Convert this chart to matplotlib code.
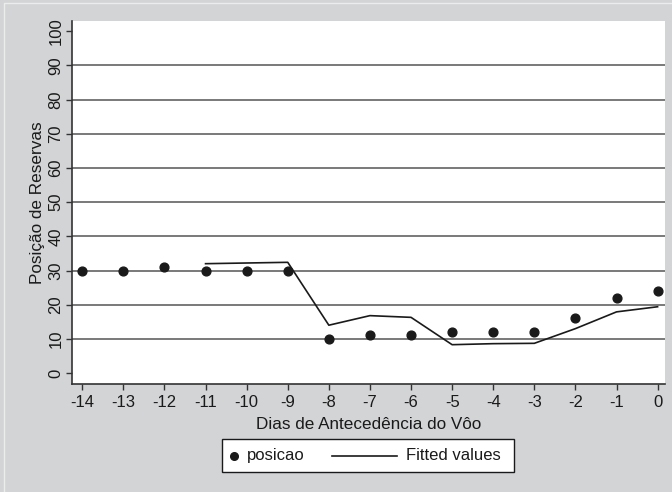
import matplotlib.pyplot as plt
from matplotlib.lines import Line2D
from matplotlib.patches import Rectangle
import numpy as np

plt.rcParams['font.family'] = ['Liberation Sans', 'DejaVu Sans']
plt.rcParams['axes.unicode_minus'] = False

dias = [-14, -13, -12, -11, -10, -9, -8, -7, -6, -5, -4, -3, -2, -1, 0]
posicao = [30, 30, 31, 30, 30, 30, 10, 11, 11, 12, 12, 12, 16, 22, 24]

dias_fit = [-11, -10, -9, -8, -7, -6, -5, -4, -3, -2, -1, 0]
fitted = [32.0, 32.2, 32.4, 14.0, 16.8, 16.3, 8.3, 8.6, 8.7, 13.0, 17.9, 19.4]

W, H = 672, 492
fig = plt.figure(figsize=(W / 100, H / 100), dpi=100, facecolor='#d3d4d6')


def fx(px):
    return px / W


def fy(py):
    return 1 - py / H


# thin light frame line along the top and left of the background
fig.lines.append(Line2D([fx(4), fx(4), fx(W)], [fy(H), fy(3), fy(3)],
                        transform=fig.transFigure, color='#ececec', linewidth=1))

ax = fig.add_axes([fx(72), fy(384), 593 / W, 363 / H])
ax.set_facecolor('white')

ax.scatter(dias, posicao, s=40, color='#1a1a1a', zorder=3)
ax.plot(dias_fit, fitted, color='#1a1a1a', linewidth=1.2, zorder=3)

ax.set_xlim(-14.25, 0.18)
ax.set_ylim(-3.2, 103)
ax.set_xticks(np.arange(-14, 1, 1))
ax.set_yticks(np.arange(0, 101, 10))
ax.set_yticklabels([str(v) for v in range(0, 101, 10)], rotation=90, va='center')

for v in range(10, 100, 10):
    ax.axhline(v, color='#6e6e6e', linewidth=1.3, zorder=1)

for s in ['top', 'right']:
    ax.spines[s].set_visible(False)
for s in ['left', 'bottom']:
    ax.spines[s].set_color('#333333')
    ax.spines[s].set_linewidth(1.2)

ax.tick_params(axis='both', labelsize=12, length=4.3, width=1, color='#333333', labelcolor='#1a1a1a')
ax.tick_params(axis='x', pad=3.5)
ax.tick_params(axis='y', pad=2)

ax.set_xlabel('Dias de Antecedência do Vôo', fontsize=12.3, color='#1a1a1a', labelpad=5.5)
ax.set_ylabel('Posição de Reservas', fontsize=12.3, color='#1a1a1a', labelpad=2)

# legend box below the axis title
fig.patches.append(Rectangle((fx(222), fy(472)), (514 - 222) / W, (472 - 439) / H,
                             transform=fig.transFigure, facecolor='white',
                             edgecolor='#1a1a1a', linewidth=1))
ly = fy(455.5)
fig.lines.append(Line2D([fx(234)], [ly], transform=fig.transFigure, marker='o',
                        markersize=5.5, color='#1a1a1a', linestyle='none'))
fig.text(fx(247), ly, 'posicao', fontsize=12, color='#1a1a1a', va='center', ha='left')
fig.lines.append(Line2D([fx(332), fx(397)], [ly, ly], transform=fig.transFigure,
                        color='#1a1a1a', linewidth=1.2))
fig.text(fx(406), ly, 'Fitted values', fontsize=12, color='#1a1a1a', va='center', ha='left')

fig.savefig('out.png', dpi=100, facecolor=fig.get_facecolor())
